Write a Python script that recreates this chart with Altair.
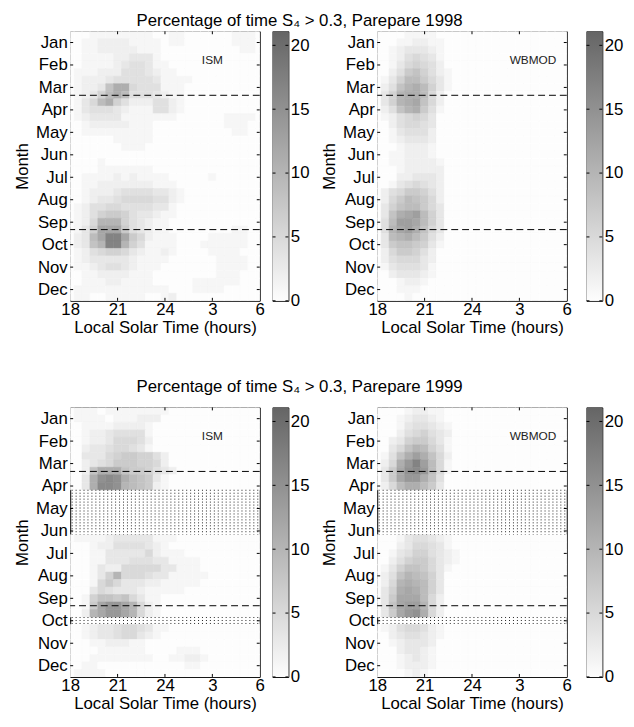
import altair as alt
import pandas as pd

# ---------------- data ----------------
MONTHS = ["Jan", "Feb", "Mar", "Apr", "May", "Jun", "Jul", "Aug", "Sep", "Oct", "Nov", "Dec"]
HOUR_CENTERS = [18.0 + 0.5 * k for k in range(25)]        # cell centres, hours (18 .. 30 = 6 LT)
ROW_CENTERS = [2.0 / 3.0 + r / 3.0 for r in range(36)]     # cell centres, month units (1/3 month bins)
X_TICKS = [18, 21, 24, 27, 30]
MONTH_TICKS = list(range(1, 13))
CBAR_TICKS = [0, 5, 10, 15, 20]
CMAX = 21.1
EQUINOX_LINES = [3.35, 9.33]
GAP_BANDS_1999 = [[4.1667, 6.1667], [9.8333, 10.1667]]    # months with no data (dotted)

# percentage of time S4 > 0.3; each row = one 1/3-month bin, values from 18.0 LT in 0.5 h steps
# (cells beyond the listed values are white = 0)
ISM_1998 = [
    [0, 0, 0, 1, 1, 1, 1, 1, 1, 1, 1, 0, 0, 1, 1, 0, 0, 0, 0, 0, 0, 1, 1, 1],
    [0, 0, 1, 1, 2, 2, 2, 2, 1, 1, 1, 1, 0, 1, 1, 0, 0, 0, 0, 0, 0, 1, 1, 1],
    [0, 0, 1, 1, 2, 2, 2, 2, 2, 1, 1, 1, 0, 0, 0, 0, 0, 0, 0, 0, 0, 0, 1, 1],
    [0, 0, 1, 1, 1, 1, 2, 2, 3, 3, 3, 1],
    [0, 0, 1, 1, 1, 1, 2, 3, 4, 4, 3, 1, 1],
    [0, 1, 1, 1, 2, 2, 2, 4, 4, 4, 3, 2, 1, 1],
    [0, 1, 2, 2, 2, 3, 4, 4, 4, 4, 4, 3, 1, 1, 1, 1],
    [0, 1, 2, 2, 3, 8, 11, 11, 5, 4, 4, 4, 1, 1, 1],
    [0, 1, 2, 3, 6, 9, 11, 9, 4, 4, 4, 3, 2, 1, 1],
    [0, 1, 3, 5, 9, 11, 6, 4, 2, 2, 2, 4, 4, 2, 1],
    [0, 1, 3, 4, 4, 4, 3, 2, 1, 1, 1, 4, 4, 2, 1],
    [0, 1, 2, 3, 3, 3, 3, 1, 1, 1, 1, 1, 1, 1, 0, 0, 0, 0, 0, 0, 1, 1, 1, 1],
    [0, 0, 1, 2, 2, 2, 2, 2, 1, 1, 1, 0, 0, 0, 0, 0, 0, 0, 0, 0, 1, 1, 1],
    [0, 0, 1, 1, 1, 1, 1, 1, 1, 1, 1, 0, 0, 0, 0, 0, 0, 0, 0, 0, 0, 1, 1],
    [0, 0, 0, 0, 0, 0, 1, 1, 1, 1, 1],
    [0, 0, 0, 0, 0, 0, 0, 1, 1, 1],
    [],
    [0, 0, 0, 0, 1],
    [0, 0, 0, 0, 1, 1, 1, 1, 1, 1, 1],
    [0, 0, 1, 1, 1, 1, 2, 1, 2, 1, 1, 1, 1, 0, 0, 0, 0, 0, 1],
    [0, 0, 1, 1, 2, 2, 2, 2, 2, 2, 2, 1, 1, 1],
    [0, 0, 1, 2, 2, 2, 3, 4, 4, 4, 4, 3, 3, 2, 1],
    [0, 0, 1, 2, 3, 3, 4, 5, 5, 5, 5, 4, 4, 2, 1],
    [0, 1, 2, 4, 4, 5, 5, 4, 4, 4, 4, 3, 3, 1],
    [0, 1, 2, 4, 6, 7, 7, 6, 4, 3, 3, 2, 1, 1],
    [0, 1, 2, 5, 10, 10, 10, 6, 4, 3, 2, 1, 1],
    [0, 1, 3, 6, 12, 12, 12, 7, 4, 3, 2, 1, 1, 0, 0, 0, 0, 0, 0, 0, 0, 1, 1],
    [0, 2, 3, 9, 12, 17, 17, 12, 7, 5, 2, 1, 1, 1, 0, 0, 0, 0, 1, 1, 1, 1, 1],
    [0, 2, 3, 8, 10, 17, 17, 10, 6, 4, 1, 1, 1, 1, 0, 0, 0, 1, 1, 1, 1, 1, 1],
    [0, 1, 2, 4, 5, 6, 6, 5, 3, 2, 1, 1, 2, 1, 0, 0, 0, 0, 1, 1, 1, 1],
    [0, 1, 2, 3, 3, 3, 3, 3, 2, 1, 1, 1, 1, 0, 0, 0, 0, 0, 0, 1, 1, 1, 1],
    [0, 1, 1, 2, 3, 4, 4, 3, 2, 1, 1, 1, 0, 0, 0, 0, 0, 0, 0, 1, 1, 1, 1],
    [0, 0, 1, 1, 2, 2, 2, 2, 1, 1, 1, 0, 0, 0, 0, 0, 0, 0, 0, 1, 1, 1],
    [0, 0, 1, 1, 1, 2, 2, 1, 1, 1, 1, 0, 0, 0, 0, 0, 1, 1, 1, 1, 1, 1],
    [0, 1, 1, 1, 1, 1, 1, 1, 1, 1, 1, 1, 1, 0, 0, 0, 1, 1, 1, 1],
    [0, 1, 1, 0, 0, 1, 1, 1, 1, 1, 0, 0, 1, 2],
]

WBMOD_1998 = [
    [0, 0, 0, 0, 1, 1, 1, 1],
    [0, 0, 0, 1, 1, 2, 2, 1, 1],
    [0, 0, 1, 2, 3, 3, 3, 2, 1],
    [0, 0, 1, 2, 4, 5, 4, 3, 1],
    [0, 0, 1, 3, 5, 6, 5, 4, 2],
    [0, 0, 2, 4, 7, 8, 6, 4, 2, 1],
    [0, 1, 3, 6, 9, 9, 7, 5, 3, 1],
    [0, 2, 4, 8, 10, 11, 9, 6, 3, 1],
    [0, 3, 6, 10, 11, 11, 9, 5, 2],
    [0, 3, 6, 10, 11, 12, 8, 5, 2],
    [0, 2, 4, 8, 10, 11, 7, 4, 1],
    [0, 1, 2, 4, 5, 6, 5, 3],
    [0, 0, 2, 4, 5, 5, 4, 3],
    [0, 0, 1, 3, 4, 4, 4, 2],
    [0, 0, 1, 2, 3, 3, 3, 2],
    [0, 0, 0, 1, 2, 2, 2, 1],
    [0, 0, 1, 1, 2, 2, 2, 1],
    [0, 0, 1, 1, 2, 2, 2, 2, 1],
    [0, 0, 0, 1, 2, 2, 2, 2, 2],
    [0, 0, 0, 2, 2, 3, 3, 3, 2],
    [0, 0, 1, 3, 4, 5, 4, 3, 2],
    [0, 2, 4, 5, 7, 7, 6, 4, 2],
    [0, 2, 5, 7, 9, 8, 7, 5, 2],
    [0, 3, 6, 8, 9, 9, 7, 5, 3],
    [0, 3, 8, 11, 12, 13, 9, 6, 3],
    [0, 4, 9, 13, 13, 12, 9, 6, 3],
    [0, 4, 10, 12, 13, 11, 8, 5, 3],
    [0, 3, 9, 10, 11, 9, 7, 4, 2],
    [0, 3, 7, 8, 8, 7, 6, 3, 1],
    [0, 2, 5, 7, 7, 6, 4, 2],
    [0, 2, 4, 5, 5, 5, 3, 2],
    [0, 1, 3, 4, 4, 4, 3, 1],
    [0, 0, 2, 3, 3, 3, 2, 1],
    [0, 0, 0, 1, 2, 2, 1],
    [0, 0, 0, 1, 1, 1],
    [0, 0, 0, 0, 1],
]

ISM_1999 = [
    [0, 1, 1, 1, 0, 1, 1, 1, 1, 1, 1, 1, 1],
    [0, 1, 1, 1, 1, 0, 1, 1, 1, 2, 2, 2],
    [0, 0, 1, 1, 1, 1, 2, 2, 2, 2, 1],
    [0, 0, 1, 2, 2, 3, 4, 4, 4, 4, 1],
    [0, 0, 1, 2, 2, 3, 5, 5, 5, 4, 2],
    [0, 0, 2, 3, 3, 4, 5, 5, 4, 3, 1],
    [0, 0, 3, 3, 3, 5, 6, 7, 7, 6, 6, 4, 2],
    [0, 0, 2, 3, 4, 5, 7, 7, 7, 6, 6, 5, 2],
    [0, 0, 2, 8, 11, 11, 11, 8, 7, 7, 6, 4, 3, 2],
    [0, 0, 3, 11, 15, 16, 15, 11, 9, 8, 7, 3, 1],
    [0, 0, 3, 11, 16, 16, 15, 10, 9, 8, 7, 2, 1],
    None, None, None, None, None, None,
    [0, 1, 1, 1, 1, 2, 3, 3, 3, 3, 3, 1, 1, 1],
    [0, 0, 0, 1, 2, 2, 4, 4, 4, 4, 3, 2, 1],
    [0, 0, 0, 1, 1, 3, 3, 3, 3, 3, 5, 2, 1, 1, 1],
    [0, 0, 0, 1, 1, 3, 3, 3, 4, 4, 4, 3, 3, 1, 1, 1, 1],
    [0, 0, 0, 1, 3, 2, 2, 5, 5, 5, 5, 5, 3, 3, 1, 1, 1],
    [0, 0, 0, 1, 3, 6, 10, 5, 5, 5, 4, 3, 3, 1, 1, 1, 1, 1],
    [0, 0, 0, 1, 5, 7, 5, 3, 3, 3, 2, 2, 1, 1, 1, 1, 1],
    [0, 0, 0, 3, 5, 4, 3, 3, 3, 2, 1, 1, 1, 1, 1],
    [0, 0, 1, 6, 8, 8, 7, 8, 5, 3, 1, 1],
    [0, 0, 1, 7, 12, 14, 14, 12, 10, 5, 2, 1],
    [0, 0, 2, 10, 12, 14, 14, 12, 10, 5, 2, 1],
    None,
    [0, 0, 1, 2, 3, 3, 4, 5, 5, 4, 3, 1, 1],
    [0, 0, 1, 2, 3, 3, 4, 5, 5, 3, 2, 1],
    [0, 0, 0, 1, 1, 2, 2, 2, 1, 1],
    [0, 0, 0, 0, 1, 1, 1, 1, 1, 1, 0, 0, 0, 0, 1, 1, 1],
    [0, 0, 0, 1, 1, 1, 1, 1, 1, 1, 1, 0, 0, 1, 1, 2, 2, 1],
    [0, 0, 1, 1, 0, 0, 0, 0, 0, 0, 0, 0, 0, 0, 0, 1, 1],
    [0, 1, 1, 1, 1],
]

WBMOD_1999 = [
    [0, 0, 0, 0, 1, 2, 2, 1, 1],
    [0, 0, 0, 1, 2, 3, 3, 2, 1],
    [0, 0, 0, 1, 3, 4, 4, 3, 2, 1],
    [0, 0, 0, 2, 4, 5, 6, 4, 3, 2],
    [0, 0, 2, 3, 6, 7, 7, 5, 3, 1],
    [0, 0, 3, 5, 8, 10, 9, 6, 4, 1],
    [0, 1, 4, 8, 11, 13, 11, 8, 5, 2],
    [0, 2, 5, 11, 14, 17, 13, 9, 5, 1],
    [0, 3, 7, 12, 15, 16, 14, 9, 5, 1],
    [0, 3, 7, 12, 14, 14, 11, 8, 4],
    [0, 2, 5, 9, 11, 11, 9, 7, 3],
    None, None, None, None, None, None,
    [0, 0, 0, 1, 3, 4, 4, 3, 2, 1],
    [0, 0, 0, 2, 3, 5, 5, 4, 3, 1],
    [0, 0, 1, 3, 4, 6, 6, 4, 3, 2, 1],
    [0, 0, 2, 4, 6, 7, 7, 5, 3, 2, 1],
    [0, 1, 3, 6, 8, 8, 7, 5, 3, 1],
    [0, 2, 4, 8, 10, 9, 8, 6, 3],
    [0, 2, 5, 10, 11, 10, 9, 6, 3],
    [0, 3, 6, 11, 12, 11, 9, 6, 3],
    [0, 3, 7, 12, 12, 12, 9, 5, 2],
    [0, 3, 8, 12, 13, 13, 10, 5, 2],
    [0, 3, 7, 12, 14, 15, 11, 5, 2],
    None,
    [0, 1, 2, 4, 5, 5, 4, 2, 1],
    [0, 0, 2, 3, 4, 4, 3, 2, 1],
    [0, 0, 1, 2, 3, 3, 3, 2],
    [0, 0, 0, 2, 3, 3, 2, 1],
    [0, 0, 0, 1, 2, 3, 2, 1],
    [0, 0, 0, 1, 2, 2, 2, 1],
    [0, 0, 0, 0, 1, 2, 1],
]

# ---------------- chart ----------------
W, H = 192, 273
CB_W = 16
TICK = 3
FONT = "Liberation Sans"

xs = alt.Scale(domain=[18, 30], nice=False, zero=False)
ys = alt.Scale(domain=[0.5, 12.5], nice=False, zero=False, reverse=True)
cs = alt.Scale(domain=[0, CMAX], range=["#fdfdfd", "#656565"], interpolate="rgb", clamp=True)
cbs = alt.Scale(domain=[0, CMAX], nice=False, zero=False)
month_expr = "[" + ",".join("'%s'" % m for m in MONTHS) + "][datum.value - 1]"

X_AXIS = alt.Axis(values=X_TICKS, labelExpr="datum.value > 24 ? datum.value - 24 : datum.value",
                  title="Local Solar Time (hours)", labelFlush=False, labelPadding=1, titlePadding=2)
Y_AXIS = alt.Axis(values=MONTH_TICKS, labelExpr=month_expr, title="Month",
                  labelFlush=False, labelPadding=3, titlePadding=4)
CB_AXIS = alt.Axis(orient="right", values=CBAR_TICKS, title=None, labelFlush=False, labelPadding=2)


def X(field):
    return alt.X(field, scale=xs, axis=X_AXIS, title="Local Solar Time (hours)")


def Y(field):
    return alt.Y(field, scale=ys, axis=Y_AXIS, title="Month")


def cells(grid):
    recs = []
    for r, row in enumerate(grid):
        if row is None:
            continue
        vals = list(row) + [0] * (len(HOUR_CENTERS) - len(row))
        for k, v in enumerate(vals):
            recs.append({
                "x": HOUR_CENTERS[k] - 0.25, "x2": HOUR_CENTERS[k] + 0.25,
                "y": ROW_CENTERS[r] - 1.0 / 6.0, "y2": ROW_CENTERS[r] + 1.0 / 6.0,
                "v": v,
            })
    return pd.DataFrame(recs)


def panel(grid, label, label_x, gaps=None):
    heat = alt.Chart(cells(grid)).mark_rect(clip=True, strokeWidth=0.6).encode(
        x=X("x:Q"), x2="x2:Q", y=Y("y:Q"), y2="y2:Q",
        color=alt.Color("v:Q", scale=cs, legend=None),
        stroke=alt.Stroke("v:Q", scale=cs, legend=None),
    )
    layers = [heat]
    if gaps:
        recs = []
        for g0, g1 in gaps:
            for j in range(48):
                recs.append({"x": 18.125 + 0.25 * j, "y": g0, "y2": g1})
        dots = alt.Chart(pd.DataFrame(recs)).mark_rule(
            strokeDash=[1, 2], color="#222", strokeWidth=1).encode(
            x=X("x:Q"), y=Y("y:Q"), y2="y2:Q")
        layers.append(dots)
    eq = alt.Chart(pd.DataFrame({"y": EQUINOX_LINES})).mark_rule(
        color="black", strokeDash=[7, 4], strokeWidth=1).encode(y=Y("y:Q"))
    layers.append(eq)
    xt = pd.DataFrame({"x": X_TICKS[1:-1]})
    yt = pd.DataFrame({"y": MONTH_TICKS})
    for y0, y1 in [(H, H - TICK), (0, TICK)]:
        layers.append(alt.Chart(xt).mark_rule(color="black").encode(
            x=X("x:Q"), y=alt.value(y0), y2=alt.value(y1)))
    for x0, x1 in [(0, TICK), (W - TICK, W)]:
        layers.append(alt.Chart(yt).mark_rule(color="black").encode(
            y=Y("y:Q"), x=alt.value(x0), x2=alt.value(x1)))
    txt = alt.Chart(pd.DataFrame({"x": [label_x], "y": [1.77], "t": [label]})).mark_text(
        fontSize=12, color="#222", font=FONT).encode(x=X("x:Q"), y=Y("y:Q"), text="t:N")
    layers.append(txt)
    return alt.layer(*layers).properties(width=W, height=H)


def colorbar():
    cb = pd.DataFrame({"y": [0.0], "y2": [CMAX]})
    grad = alt.Gradient(gradient="linear",
                        stops=[alt.GradientStop(color="#fdfdfd", offset=0),
                               alt.GradientStop(color="#656565", offset=1)],
                        x1=0, x2=0, y1=1, y2=0)
    bar = alt.Chart(cb).mark_rect(fill=grad).encode(
        y=alt.Y("y:Q", scale=cbs, axis=CB_AXIS, title=None),
        y2="y2:Q", x=alt.value(0), x2=alt.value(CB_W))
    td = pd.DataFrame({"y": CBAR_TICKS})
    layers = [bar]
    for x0, x1 in [(0, TICK), (CB_W - TICK, CB_W)]:
        layers.append(alt.Chart(td).mark_rule(color="black").encode(
            y=alt.Y("y:Q", scale=cbs, axis=CB_AXIS, title=None),
            x=alt.value(x0), x2=alt.value(x1)))
    return alt.layer(*layers).properties(width=CB_W, height=H)


def row(year, ism, wb, gaps=None, title_offset=5):
    left = alt.hconcat(panel(ism, "ISM", 27.0, gaps), colorbar(), spacing=6)
    right = alt.hconcat(panel(wb, "WBMOD", 27.86, gaps), colorbar(), spacing=13)
    return alt.hconcat(left, right, spacing=10).properties(
        title=alt.TitleParams("Percentage of time S\u2084 > 0.3, Parepare %d" % year,
                              fontSize=17, fontWeight="normal", font=FONT, color="black",
                              anchor="middle", dx=-19, offset=title_offset))


chart = alt.vconcat(
    row(1998, ISM_1998, WBMOD_1998, title_offset=0),
    row(1999, ISM_1999, WBMOD_1999, GAP_BANDS_1999, title_offset=11),
    spacing=42,
).properties(
    padding={"left": 5, "top": 0, "right": 2, "bottom": 0}
).configure(font=FONT).configure_axis(
    labelFontSize=17, titleFontSize=17, titleFontWeight="normal",
    labelColor="black", titleColor="black", labelFont=FONT, titleFont=FONT,
    ticks=False, domain=False, grid=False,
).configure_view(stroke="black", strokeWidth=1).configure_concat(spacing=12)

chart.save("out.html", embed_options={"renderer": "svg", "actions": False})
